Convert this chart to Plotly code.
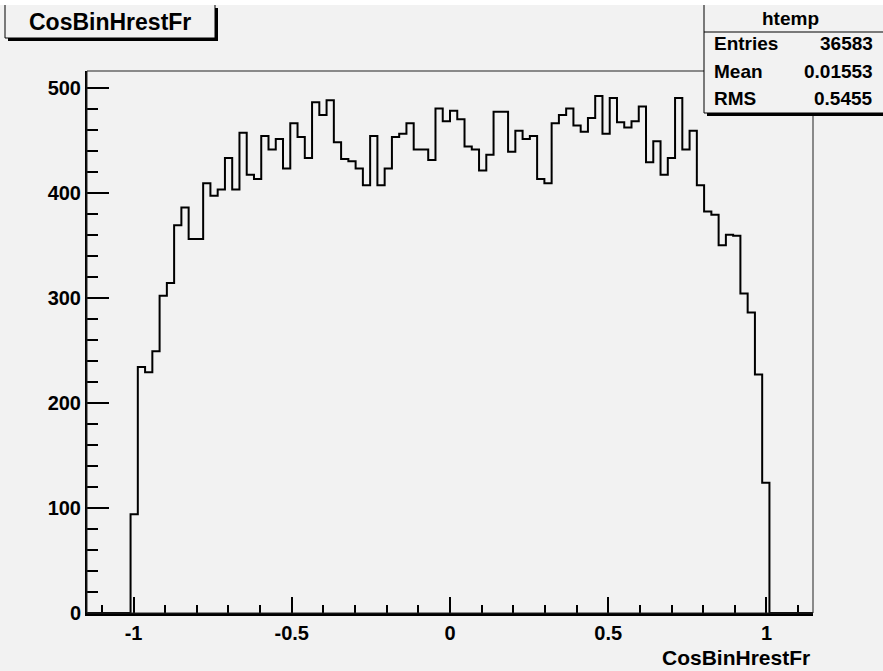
import plotly.graph_objects as go

# ---------------- data ----------------
x_min, x_max, n_bins = -1.147, 1.147, 100
y_max = 515.8
first_bin = 6
nonzero_counts = [
    94, 234, 229, 249, 302, 314, 369, 386, 356, 356, 409, 397, 403, 433, 403, 457,
    417, 413, 454, 441, 451, 423, 466, 453, 433, 486, 474, 488, 448, 432, 430, 423, 407, 454,
    407, 423, 453, 456, 466, 441, 441, 431, 480, 468, 478, 470, 444, 441, 421, 436, 477, 477,
    439, 459, 451, 454, 413, 409, 466, 474, 480, 464, 458, 471, 492, 456, 490, 467, 462, 468,
    482, 429, 449, 417, 433, 490, 441, 459, 407, 382, 379, 350, 360, 359, 304, 286, 227, 124,
]
counts = [0] * first_bin + nonzero_counts
counts = counts + [0] * (n_bins - len(counts))

x_tickvals = [-1, -0.5, 0, 0.5, 1]
x_ticktext = ["-1", "-0.5", "0", "0.5", "1"]
y_tickvals = [0, 100, 200, 300, 400, 500]
y_ticktext = ["0", "100", "200", "300", "400", "500"]

title_text = "CosBinHrestFr"
x_title = "CosBinHrestFr"
stat_name = "htemp"
stat_labels = ["Entries", "Mean", "RMS"]
stat_values = ["36583", "0.01553", "0.5455"]

# ---------------- layout geometry ----------------
W, H = 883, 671
ML, MR, MT, MB = 87, 70, 71, 58
PW = W - ML - MR
PH = H - MT - MB
BG = "#f2f2f2"
FONT = "Liberation Sans"


def px(x):
    return (x - ML) / PW


def py(y):
    return (H - MB - y) / PH


bw = (x_max - x_min) / n_bins
edges = [x_min + i * bw for i in range(n_bins + 1)]
xs = [edges[0]] + edges[:-1] + [edges[-1]]
ys = [0] + counts + [0]

fig = go.Figure()
fig.add_trace(go.Scatter(x=xs, y=ys, mode="lines", line=dict(shape="hv", color="black", width=2),
                         hoverinfo="skip", showlegend=False))

x_minor = [round(-1.1 + 0.1 * i, 2) for i in range(23)]
y_minor = [20 * i for i in range(26)]

fig.update_xaxes(range=[x_min, x_max], tickmode="array", tickvals=x_tickvals, ticktext=x_ticktext,
                 ticks="inside", ticklen=16, tickwidth=1.5, tickcolor="black",
                 showline=True, linewidth=3, linecolor="black", showgrid=False, zeroline=False,
                 tickfont=dict(family=FONT, size=20, color="black", weight="bold"),
                 minor=dict(tickmode="array", tickvals=x_minor, ticks="inside", ticklen=8,
                            tickwidth=1.5, tickcolor="black", showgrid=False))
fig.update_yaxes(range=[0, y_max], tickmode="array", tickvals=y_tickvals, ticktext=y_ticktext,
                 ticks="inside", ticklen=22, tickwidth=1.5, tickcolor="black",
                 showline=True, linewidth=2, linecolor="black", showgrid=False, zeroline=False,
                 tickfont=dict(family=FONT, size=20, color="black", weight="bold"),
                 minor=dict(tickmode="array", tickvals=y_minor, ticks="inside", ticklen=11,
                            tickwidth=1.5, tickcolor="black", showgrid=False))

shapes = [
    # frame
    dict(type="rect", xref="paper", yref="paper", x0=0, x1=1, y0=0, y1=1,
         line=dict(color="#222", width=1)),
    # title box shadow + box
    dict(type="rect", xref="paper", yref="paper", x0=px(8), x1=px(218), y0=py(41), y1=py(8),
         fillcolor="black", line=dict(width=0)),
    dict(type="rect", xref="paper", yref="paper", x0=px(5), x1=px(215), y0=py(38), y1=py(-5),
         fillcolor=BG, line=dict(color="black", width=1)),
    # stat box shadow + box
    dict(type="rect", xref="paper", yref="paper", x0=px(707), x1=px(890), y0=py(116), y1=py(8),
         fillcolor="black", line=dict(width=0)),
    dict(type="rect", xref="paper", yref="paper", x0=px(704), x1=px(887), y0=py(113), y1=py(-5),
         fillcolor=BG, line=dict(color="black", width=1)),
    dict(type="line", xref="paper", yref="paper", x0=px(704), x1=px(887), y0=py(32), y1=py(32),
         line=dict(color="black", width=1)),
    # white top strip of the canvas
    dict(type="rect", xref="paper", yref="paper", x0=px(0), x1=px(W), y0=py(5), y1=py(-2),
         fillcolor="white", line=dict(width=0)),
]

annotations = [
    dict(text=title_text, x=px(110), y=py(22), xref="paper", yref="paper", showarrow=False,
         xanchor="center", yanchor="middle", font=dict(family=FONT, size=23, color="black", weight="bold")),
    dict(text=x_title, x=px(812), y=py(657), xref="paper", yref="paper", showarrow=False,
         xanchor="right", yanchor="middle", font=dict(family=FONT, size=21, color="black", weight="bold")),
    dict(text=stat_name, x=px(790), y=py(18), xref="paper", yref="paper", showarrow=False,
         xanchor="center", yanchor="middle", font=dict(family=FONT, size=19, color="black", weight="bold")),
]
for i, (lab, val) in enumerate(zip(stat_labels, stat_values)):
    yy = 44 + 27 * i
    annotations.append(dict(text=lab, x=px(712), y=py(yy), xref="paper", yref="paper", showarrow=False,
                            xanchor="left", yanchor="middle",
                            font=dict(family=FONT, size=19, color="black", weight="bold")))
    annotations.append(dict(text=val, x=px(875), y=py(yy), xref="paper", yref="paper", showarrow=False,
                            xanchor="right", yanchor="middle",
                            font=dict(family=FONT, size=19, color="black", weight="bold")))

fig.update_layout(width=W, height=H, margin=dict(l=ML, r=MR, t=MT, b=MB, autoexpand=False),
                  paper_bgcolor=BG, plot_bgcolor=BG, shapes=shapes, annotations=annotations,
                  showlegend=False)

fig.write_html("out.html")
